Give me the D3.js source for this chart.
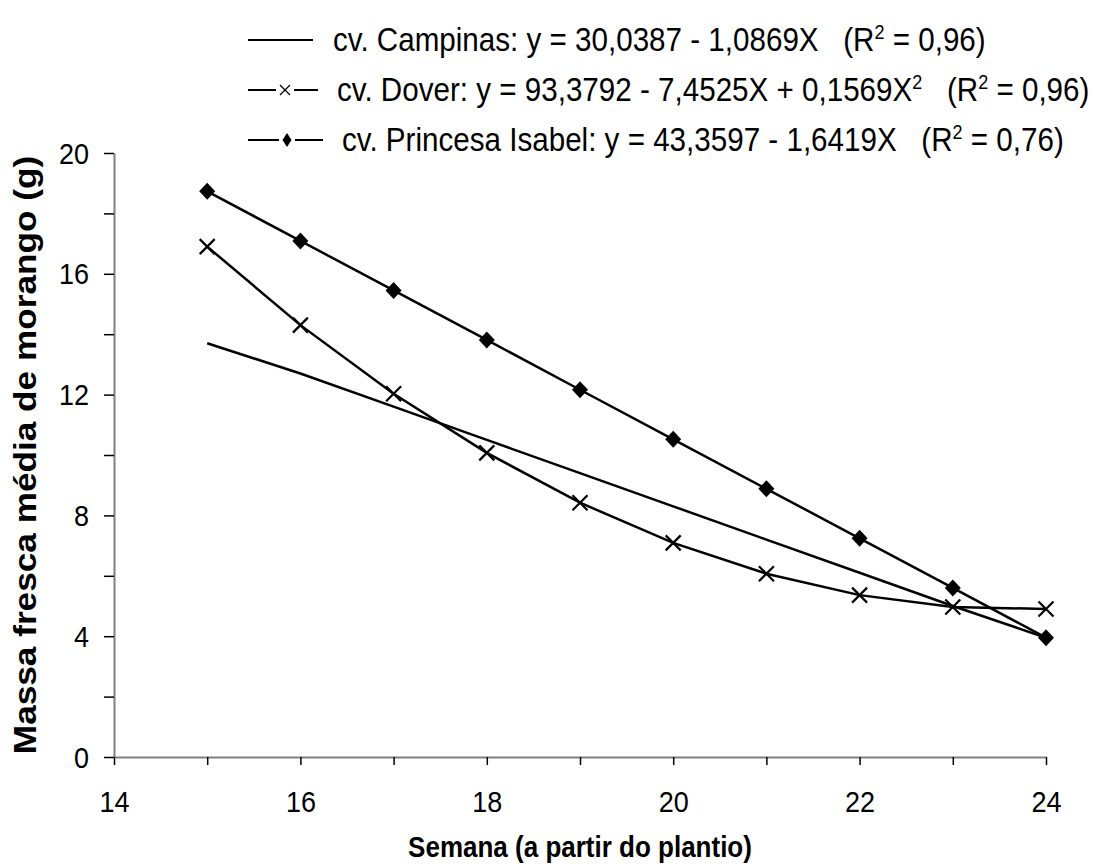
<!DOCTYPE html>
<html><head><meta charset="utf-8">
<script src="https://cdn.jsdelivr.net/npm/d3@7"></script>
<style>body{margin:0;background:#fff}svg{display:block}text{font-family:"Liberation Sans",Arial,sans-serif}</style>
</head><body>
<svg id="c" width="1094" height="868"></svg>
<script>
const weeks = [15,16,17,18,19,20,21,22,23,24];
const campinas = [13.7,12.7,11.6,10.5,9.4,8.3,7.2,6.1,5.0,3.95];
const dover = [16.9,14.3,12.03,10.07,8.42,7.09,6.07,5.36,4.97,4.9];
const princesa = [18.73,17.09,15.45,13.81,12.16,10.52,8.88,7.24,5.6,3.95];
const xTicks = [14,15,16,17,18,19,20,21,22,23,24];
const xLabels = [14,16,18,20,22,24];
const yTicks = [0,2,4,6,8,10,12,14,16,18,20];
const yLabels = [0,4,8,12,16,20];
const legendNames = ["cv. Campinas: y = 30,0387 - 1,0869X", "cv. Dover: y = 93,3792 - 7,4525X + 0,1569X", "cv. Princesa Isabel: y = 43,3597 - 1,6419X"];
const legendR2 = ["0,96","0,96","0,76"];

const SY = 1.1; // vertical stretch of glyphs
const svg = d3.select("#c");
const x = d3.scaleLinear().domain([14,24]).range([114,1046]);
const y = d3.scaleLinear().domain([0,20]).range([757,153]);

// axes
const gx = svg.append("g").attr("transform","translate(0,757)")
  .call(d3.axisBottom(x).tickValues(xTicks).tickSize(8).tickSizeOuter(0).tickFormat(d=>xLabels.includes(d)?d:""));
gx.select(".domain").attr("stroke","#7f7f7f").attr("stroke-width",2);
gx.selectAll(".tick line").attr("stroke","#000").attr("stroke-width",1.5);
gx.selectAll(".tick text").attr("font-size",27).attr("fill","#000").attr("dy",null)
  .attr("y",55/SY).attr("transform",`scale(1,${SY})`).attr("font-family","Liberation Sans, Arial");

const gy = svg.append("g").attr("transform","translate(114,0)")
  .call(d3.axisLeft(y).tickValues(yTicks).tickSize(10).tickSizeOuter(0).tickFormat(d=>yLabels.includes(d)?d:""));
gy.select(".domain").attr("stroke","#7f7f7f").attr("stroke-width",2);
gy.selectAll(".tick line").attr("stroke","#000").attr("stroke-width",1.5);
gy.selectAll(".tick text").attr("font-size",27).attr("fill","#000").attr("x",-25).attr("dy",null)
  .attr("y",10/SY).attr("transform",`scale(1,${SY})`).attr("font-family","Liberation Sans, Arial");

// titles
svg.append("text").attr("transform",`translate(580,857) scale(1,${SY})`).attr("text-anchor","middle")
  .attr("font-size",26).attr("font-weight","bold").text("Semana (a partir do plantio)");
svg.append("text").attr("transform",`translate(36,455) scale(1,${SY}) rotate(-90)`).attr("text-anchor","middle")
  .attr("font-size",32).attr("font-weight","bold").text("Massa fresca média de morango (g)");

const line = d3.line().x(d=>x(d[0])).y(d=>y(d[1]));
const series = [campinas, dover, princesa];
series.forEach(s=>{
  svg.append("path").datum(weeks.map((w,i)=>[w,s[i]])).attr("d",line)
    .attr("fill","none").attr("stroke","#000").attr("stroke-width",2.5);
});
const crossPath = r => `M${-r},${-r}L${r},${r}M${-r},${r}L${r},${-r}`;
const diamondPath = (rx,ry) => `M0,${-ry}L${rx},0L0,${ry}L${-rx},0Z`;
svg.append("g").selectAll("path").data(weeks.map((w,i)=>[w,dover[i]])).join("path")
  .attr("transform",d=>`translate(${x(d[0])},${y(d[1])})`).attr("d",crossPath(7.5))
  .attr("stroke","#000").attr("stroke-width",2.2).attr("fill","none");
svg.append("g").selectAll("path").data(weeks.map((w,i)=>[w,princesa[i]])).join("path")
  .attr("transform",d=>`translate(${x(d[0])},${y(d[1])})`).attr("d",diamondPath(8,8.5))
  .attr("fill","#000");

// legend
const rows = [40,90,140];
const lineEnd = [313,318,323];
const textX = [333,337,342];
rows.forEach((ry,i)=>{
  const g = svg.append("g");
  g.append("line").attr("x1",248).attr("x2",lineEnd[i]).attr("y1",ry).attr("y2",ry).attr("stroke","#000").attr("stroke-width",1.8);
  if(i===1){
    g.append("rect").attr("x",276).attr("y",ry-6).attr("width",18).attr("height",12).attr("fill","#fff");
    g.append("path").attr("transform",`translate(285,${ry})`).attr("d",crossPath(5)).attr("stroke","#000").attr("stroke-width",1.3).attr("fill","none");
  } else if(i===2){
    g.append("rect").attr("x",279).attr("y",ry-8).attr("width",16).attr("height",16).attr("fill","#fff");
    g.append("path").attr("transform",`translate(287,${ry})`).attr("d",diamondPath(4.5,7)).attr("fill","#000");
  }
  const t = g.append("text").attr("transform",`translate(${textX[i]},${ry+11}) scale(1,${SY})`).attr("font-size",29.6);
  t.append("tspan").text(legendNames[i]);
  if(i===1){ t.append("tspan").attr("font-size",18).attr("dy",-11).text("2"); t.append("tspan").attr("dy",11).text("\u00a0\u00a0\u00a0(R"); }
  else t.append("tspan").text("\u00a0\u00a0\u00a0(R");
  t.append("tspan").attr("font-size",18).attr("dy",-11).text("2");
  t.append("tspan").attr("dy",11).text(" = "+legendR2[i]+")");
});
</script>
</body></html>
